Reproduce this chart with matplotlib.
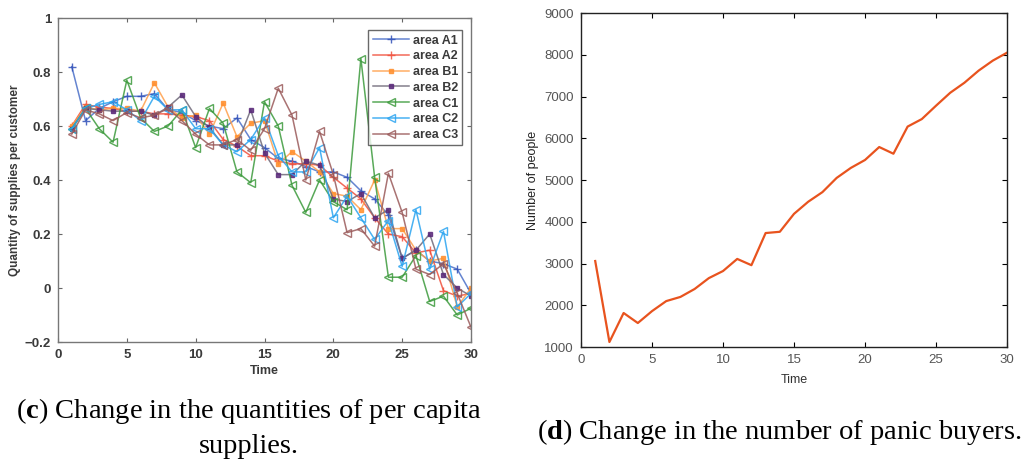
import numpy as np
import matplotlib
matplotlib.use('Agg')
import matplotlib.pyplot as plt

plt.rcParams['font.family'] = ['Liberation Sans', 'DejaVu Sans']
plt.rcParams['mathtext.fontset'] = 'custom'
plt.rcParams['mathtext.rm'] = 'Liberation Serif'
plt.rcParams['mathtext.bf'] = 'Liberation Serif:bold'

# per capita supplies by area, t = 1..30
time = np.arange(1, 31)
area_names = ['area A1', 'area A2', 'area B1', 'area B2', 'area C1', 'area C2', 'area C3']
a1 = [0.82, 0.62, 0.665, 0.69, 0.71, 0.71, 0.72, 0.66, 0.65, 0.62,
      0.60, 0.59, 0.63, 0.55, 0.52, 0.48, 0.47, 0.45, 0.43, 0.43,
      0.41, 0.36, 0.33, 0.27, 0.11, 0.14, 0.10, 0.09, 0.07, -0.02]
a2 = [0.60, 0.68, 0.67, 0.665, 0.655, 0.655, 0.645, 0.645, 0.64, 0.635,
      0.62, 0.55, 0.525, 0.49, 0.49, 0.47, 0.46, 0.46, 0.455, 0.41,
      0.37, 0.33, 0.26, 0.20, 0.19, 0.13, 0.14, -0.01, -0.03, -0.02]
b1 = [0.60, 0.67, 0.66, 0.665, 0.665, 0.655, 0.76, 0.67, 0.63, 0.64,
      0.57, 0.685, 0.56, 0.61, 0.62, 0.46, 0.505, 0.47, 0.43, 0.35,
      0.34, 0.29, 0.40, 0.22, 0.22, 0.14, 0.10, 0.11, -0.07, 0.0]
b2 = [0.59, 0.665, 0.66, 0.655, 0.655, 0.655, 0.64, 0.67, 0.715, 0.635,
      0.595, 0.53, 0.53, 0.66, 0.50, 0.42, 0.42, 0.47, 0.455, 0.33,
      0.32, 0.35, 0.26, 0.29, 0.11, 0.14, 0.20, 0.05, 0.0, -0.03]
c1 = [0.59, 0.665, 0.59, 0.54, 0.77, 0.63, 0.58, 0.60, 0.66, 0.52,
      0.665, 0.61, 0.43, 0.39, 0.69, 0.60, 0.38, 0.28, 0.40, 0.32,
      0.29, 0.85, 0.41, 0.04, 0.04, 0.12, -0.05, -0.03, -0.10, -0.075]
c2 = [0.59, 0.665, 0.68, 0.69, 0.66, 0.62, 0.71, 0.66, 0.66, 0.59,
      0.59, 0.53, 0.505, 0.55, 0.63, 0.49, 0.43, 0.43, 0.52, 0.26,
      0.34, 0.26, 0.18, 0.25, 0.08, 0.29, 0.07, 0.21, -0.07, -0.02]
c3 = [0.57, 0.66, 0.645, 0.62, 0.65, 0.63, 0.64, 0.665, 0.62, 0.57,
      0.53, 0.53, 0.55, 0.51, 0.59, 0.74, 0.64, 0.40, 0.58, 0.42,
      0.205, 0.22, 0.155, 0.425, 0.28, 0.07, 0.05, 0.09, -0.02, -0.145]
supplies = [a1, a2, b1, b2, c1, c2, c3]

# panic buyers over time
buyers = [3060, 1120, 1815, 1575, 1860, 2100, 2200, 2390, 2650, 2820,
          3110, 2960, 3730, 3760, 4190, 4480, 4710, 5050, 5290, 5480,
          5790, 5630, 6280, 6460, 6780, 7090, 7330, 7620, 7860, 8050]

line_cols = ['#4a6fc8', '#f0503c', '#ff9f4a', '#6e6878', '#3c9a3c', '#2aa4f0', '#9a5a5a']
mark_cols = ['#3050b8', '#f0503c', '#ff9030', '#5a2a7a', '#3c9a3c', '#2aa4f0', '#9a5a5a']
markers = ['+', '+', 's', 's', '<', '<', '<']

fig = plt.figure(figsize=(10.32, 4.68), dpi=100)

# (c) supplies per customer
ax1 = fig.add_axes([0.0562, 0.2692, 0.4002, 0.6923])
for y, name, lc, mc, m in zip(supplies, area_names, line_cols, mark_cols, markers):
    if m == '<':
        ax1.plot(time, y, color=lc, lw=1.1, marker=m, ms=6, mfc='none',
                 mec=mc, mew=1.0, label=name, alpha=0.85)
    elif m == 's':
        ax1.plot(time, y, color=lc, lw=1.1, marker=m, ms=3, mfc=mc,
                 mec=mc, label=name, alpha=0.85)
    else:
        ax1.plot(time, y, color=lc, lw=1.1, marker=m, ms=6, mec=mc,
                 mew=1.0, label=name, alpha=0.85)
ax1.set_xlim(0, 30)
ax1.set_ylim(-0.2, 1)
ax1.set_xticks([0, 5, 10, 15, 20, 25, 30])
ax1.set_yticks([-0.2, 0, 0.2, 0.4, 0.6, 0.8, 1])
ax1.set_yticklabels(['\u22120.2', '0', '0.2', '0.4', '0.6', '0.8', '1'])
ax1.tick_params(direction='in', top=True, right=True, length=3, width=0.8,
                color='#666666', labelcolor='#3a3a3a', labelsize=9.5, pad=5)
for lab in ax1.get_xticklabels() + ax1.get_yticklabels():
    lab.set_fontweight('bold')
for sp in ax1.spines.values():
    sp.set_color('#777777')
    sp.set_linewidth(1.0)
ax1.set_xlabel('Time', fontsize=9, fontweight='bold', color='#3a3a3a', labelpad=3)
ax1.set_ylabel('Quantity of supplies per customer', fontsize=8.5,
               fontweight='bold', color='#3a3a3a', labelpad=3)
leg = ax1.legend(loc='upper right', bbox_to_anchor=(0.985, 0.97), fontsize=9,
                 frameon=True, fancybox=False, edgecolor='#444444',
                 handlelength=2.9, borderpad=0.35, labelspacing=0.3,
                 handletextpad=0.3, borderaxespad=0.2)
leg.get_frame().set_linewidth(1.0)
for t in leg.get_texts():
    t.set_fontweight('bold')
    t.set_color('#3a3a3a')

# (d) panic buyers
ax2 = fig.add_axes([0.563, 0.2585, 0.4128, 0.7137])
ax2.plot(time, buyers, color='#e8531e', lw=1.6)
ax2.set_xlim(0, 30)
ax2.set_ylim(1000, 9000)
ax2.set_xticks([0, 5, 10, 15, 20, 25, 30])
ax2.set_yticks(range(1000, 9001, 1000))
ax2.tick_params(direction='in', top=True, right=True, length=3.5, width=0.8,
                labelcolor='#555555', labelsize=9.5, pad=5)
for sp in ax2.spines.values():
    sp.set_linewidth(1.0)
    sp.set_color('#222222')
ax2.set_xlabel('Time', fontsize=9, color='#333333', labelpad=6)
ax2.set_ylabel('Number of people', fontsize=9, color='#222222', labelpad=4)

# captions
cap = dict(fontsize=20.5, ha='center', va='center', color='black',
           family='Liberation Serif')
fig.text(0.241, 0.122, r'($\mathbf{c}$) Change in the quantities of per capita', **cap)
fig.text(0.241, 0.045, 'supplies.', **cap)
fig.text(0.755, 0.077, r'($\mathbf{d}$) Change in the number of panic buyers.', **cap)

fig.savefig('out.png', dpi=100)
